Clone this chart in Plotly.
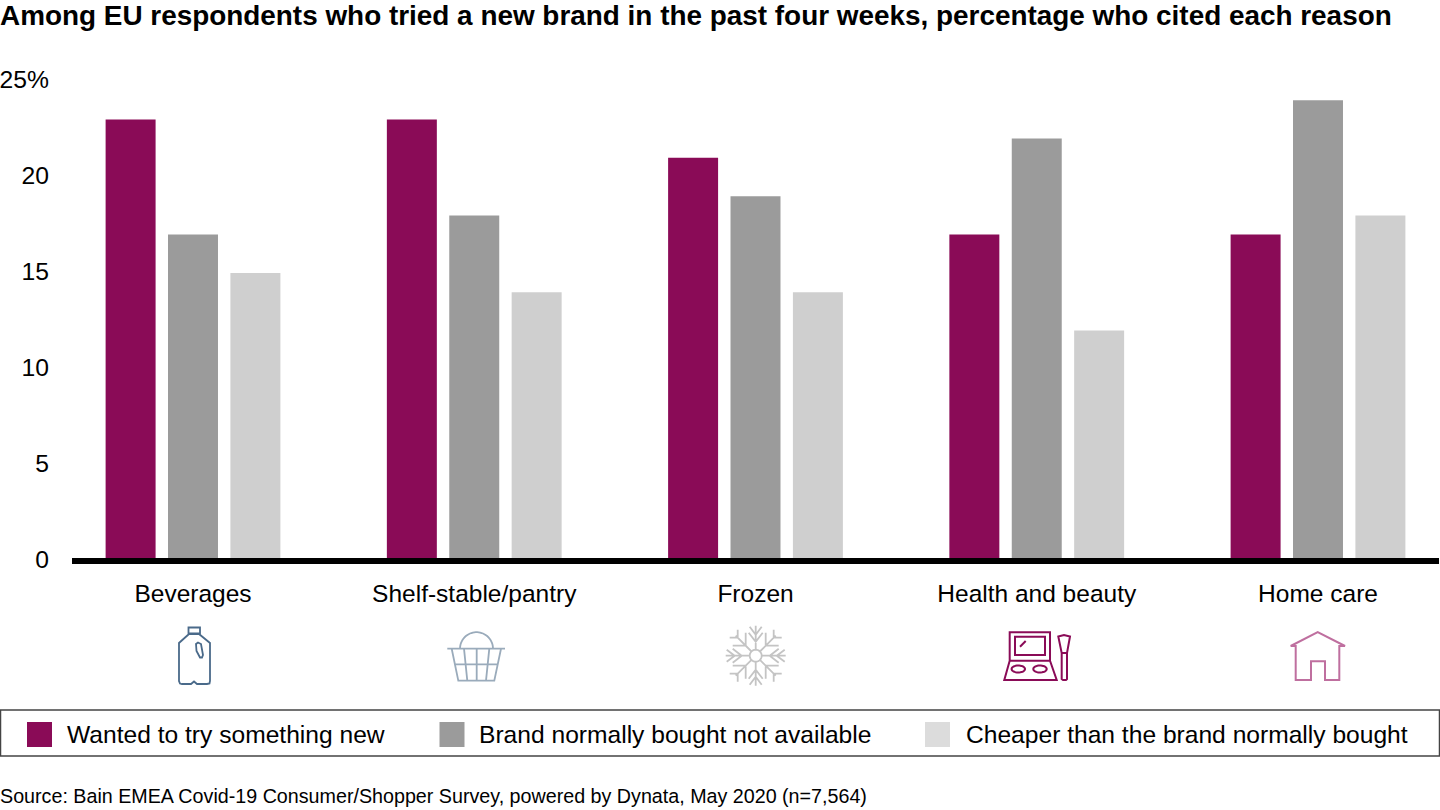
import numpy as np
import plotly.graph_objects as go

categories = ["Beverages", "Shelf-stable/pantry", "Frozen", "Health and beauty", "Home care"]
wanted_new = [23, 23, 21, 17, 17]
not_available = [17, 18, 19, 22, 24]
cheaper = [15, 14, 14, 12, 18]
series_names = ["Wanted to try something new", "Brand normally bought not available", "Cheaper than the brand normally bought"]
bar_colors = ["#8a0b57", "#9b9b9b", "#cfcfcf"]
legend_colors = ["#8a0b57", "#9b9b9b", "#dcdcdc"]
y_ticks = [0, 5, 10, 15, 20, 25]
y_labels = ["0", "5", "10", "15", "20", "25%"]
title = "Among EU respondents who tried a new brand in the past four weeks, percentage who cited each reason"
source = "Source: Bain EMEA Covid-19 Consumer/Shopper Survey, powered by Dynata, May 2020 (n=7,564)"

FONT = "Liberation Sans, Arial, sans-serif"
L, R, T, B = 72, 1439, 81, 561
W, H = 1440, 810


def px(x):
    return (x - L) / (R - L)


def py(y):
    return (B - y) / (B - T)


def poly(points, close=False):
    s = "M " + " L ".join(f"{px(x):.5f},{py(y):.5f}" for x, y in points)
    return s + (" Z" if close else "")


def ellipse(cx, cy, rx, ry, start=0.0, stop=2 * np.pi, close=True, n=36):
    t = np.linspace(start, stop, n)
    return poly(list(zip(cx + rx * np.cos(t), cy + ry * np.sin(t))), close)


def icon(paths, color, width=2.0):
    return dict(type="path", xref="paper", yref="paper", path=" ".join(paths),
                line=dict(color=color, width=width), fillcolor="rgba(0,0,0,0)", layer="above")


shapes = []

# baseline
shapes.append(dict(type="line", xref="paper", yref="paper", x0=0, x1=1, y0=0, y1=0,
                   line=dict(color="#000000", width=6), layer="above"))

# bottle
shapes.append(icon([
    poly([(188.5, 627.5), (200, 627.5), (200, 633.5), (188.5, 633.5)], True),
    poly([(189, 634), (179, 643), (179, 681), (180, 683.5), (182, 684), (191, 684), (194, 681.5),
          (197, 684), (207, 684), (209.5, 683.5), (210, 681), (210, 643), (199, 634)], True),
    poly([(196, 644), (198, 642.5), (201, 644), (203, 655), (202, 657.5), (200, 657.5), (196.5, 651)], True),
], "#4a6a8a", 1.8))

# basket
shapes.append(icon([
    poly([(447.3, 648.7), (505, 648.7)]),
    ellipse(476.5, 648.7, 16.5, 16.5, np.pi, 2 * np.pi, False),
    poly([(451.7, 648.7), (458.3, 680.7), (494.3, 680.7), (501, 648.7)]),
    poly([(455, 664.3), (497.7, 664.3)]),
    poly([(464, 648.7), (467.3, 680.7)]),
    poly([(476.7, 648.7), (476.7, 680.7)]),
    poly([(489.3, 648.7), (486, 680.7)]),
], "#9aabbb", 1.8))

# snowflake
cx, cy = 755.7, 655.7
flake = [ellipse(cx, cy, 6, 6)]
for dx, dy in [(0, -1), (0, 1), (-1, 0), (1, 0)]:
    nx, ny = -dy, dx
    flake.append(poly([(cx + 6 * dx, cy + 6 * dy), (cx + 30 * dx, cy + 30 * dy)]))
    for r, a, b in [(14, 9, 7), (21, 8, 6)]:
        flake.append(poly([(cx + (r + a) * dx + b * nx, cy + (r + a) * dy + b * ny),
                           (cx + r * dx, cy + r * dy),
                           (cx + (r + a) * dx - b * nx, cy + (r + a) * dy - b * ny)]))
for sx, sy in [(-1, -1), (1, -1), (-1, 1), (1, 1)]:
    flake.append(poly([(cx + 4.2 * sx, cy + 4.2 * sy), (cx + 20 * sx, cy + 20 * sy)]))
    for r, ext in [(10, 13), (18, 8)]:
        flake.append(poly([(cx + r * sx, cy + (r + ext) * sy), (cx + r * sx, cy + r * sy),
                           (cx + (r + ext) * sx, cy + r * sy)]))
shapes.append(icon(flake, "#c4c4c4", 1.8))

# make-up palette
shapes.append(icon([
    poly([(1009.7, 660.7), (1009.7, 632.3), (1050, 632.3), (1050, 660.7)]),
    poly([(1015, 636.7), (1045, 636.7), (1045, 655), (1015, 655)], True),
    poly([(1020, 646.7), (1025.7, 641)]),
    poly([(1009.7, 660.7), (1050, 660.7), (1056.7, 680), (1004.3, 680)], True),
    ellipse(1018.3, 669, 6.7, 3.5),
    ellipse(1040, 669, 6.7, 3.5),
    poly([(1058.3, 636.5), (1064, 635), (1070, 636.5), (1067, 653), (1067, 679), (1066, 680),
          (1063, 680), (1061.7, 679), (1061.7, 653)], True),
    poly([(1061.7, 653), (1067, 653)]),
], "#8a0b57", 2.0))

# house
shapes.append(icon([
    poly([(1290.7, 646), (1317.7, 632), (1345, 646), (1339.3, 646), (1339.3, 680), (1325, 680),
          (1325, 661.3), (1311, 661.3), (1311, 680), (1295.7, 680), (1295.7, 646)], True),
], "#bf6f9f", 2.0))

# legend frame and swatches
shapes.append(dict(type="rect", xref="paper", yref="paper", x0=px(0.5), x1=px(1439.5), y0=py(756), y1=py(710),
                   line=dict(color="#444444", width=1.5), fillcolor="rgba(0,0,0,0)"))
swatch_left = [27, 439.5, 925]
text_left = [66, 478, 965]
annotations = []
for name, col, sx, tx in zip(series_names, legend_colors, swatch_left, text_left):
    shapes.append(dict(type="rect", xref="paper", yref="paper", x0=px(sx), x1=px(sx + 25),
                       y0=py(747), y1=py(722), line=dict(width=0), fillcolor=col))
    annotations.append(dict(xref="paper", yref="paper", x=px(tx), y=py(734.3), xanchor="left", yanchor="middle",
                            text=name, showarrow=False, borderpad=0, font=dict(family=FONT, size=24.6, color="#000000")))

annotations.append(dict(xref="paper", yref="paper", x=px(0), y=py(796), xanchor="left", yanchor="middle",
                        text=source, showarrow=False, borderpad=0, borderwidth=0,
                        font=dict(family=FONT, size=19.7, color="#000000")))
annotations.append(dict(xref="paper", yref="paper", x=px(0), y=py(15), xanchor="left", yanchor="middle",
                        text=f"<b>{title}</b>", showarrow=False, borderpad=0, borderwidth=0,
                        font=dict(family=FONT, size=27.9, color="#000000")))

fig = go.Figure()
for name, values, col in zip(series_names, [wanted_new, not_available, cheaper], bar_colors):
    fig.add_trace(go.Bar(x=categories, y=values, name=name, marker=dict(color=col, line=dict(width=0))))

fig.update_layout(
    width=W, height=H, autosize=False,
    margin=dict(l=L, r=W - R, t=T, b=H - B, pad=0),
    paper_bgcolor="#ffffff", plot_bgcolor="#ffffff",
    barmode="group", bargap=0.3344, bargroupgap=0.199,
    showlegend=False,
    font=dict(family=FONT, size=24, color="#000000"),
    shapes=shapes, annotations=annotations,
    xaxis=dict(range=[(L - 193) / 281.25, (R - 193) / 281.25], showgrid=False, zeroline=False, showline=False,
               ticks="", ticklabelstandoff=15, tickfont=dict(family=FONT, size=24.5, color="#000000")),
    yaxis=dict(range=[0, 25], tickvals=y_ticks, ticktext=y_labels, showgrid=False, zeroline=False,
               showline=False, ticks="", ticklabelstandoff=22, ticklabelshift=-2,
               tickfont=dict(family=FONT, size=24.7, color="#000000")),
)

fig.write_html("out.html", config=dict(displayModeBar=False),
               post_script="document.body.style.margin='0';")
